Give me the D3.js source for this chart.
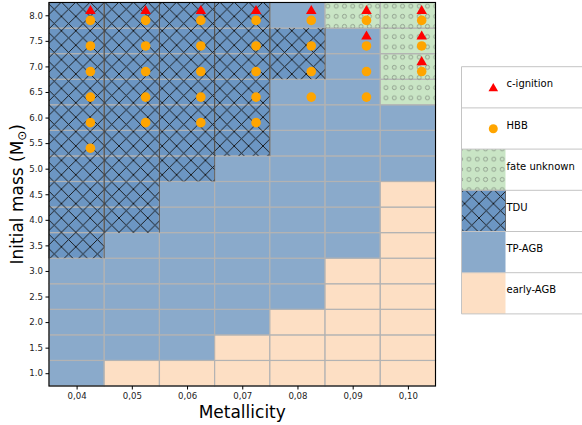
<!DOCTYPE html>
<html>
<head>
<meta charset="utf-8">
<style type="text/css">
body { margin: 0; background: #fff; }
svg { font-family: "DejaVu Sans", sans-serif; }
.cell { stroke: #b3b3b3; stroke-width: 1.2; }
.tick text { font-size: 8.6px; fill: #222; }
.legline { stroke: #c4c4c4; stroke-width: 1; }
</style>
<script src="https://d3js.org/d3.v7.min.js"></script>
</head>
<body>
<div class="chart"></div>
<script type="text/javascript">
// metallicity columns and initial mass rows
var metallicity = [0.04, 0.05, 0.06, 0.07, 0.08, 0.09, 0.10];
var masses = [1.0, 1.5, 2.0, 2.5, 3.0, 3.5, 4.0, 4.5, 5.0, 5.5, 6.0, 6.5, 7.0, 7.5, 8.0];

// fate per column, bottom (1.0) to top (8.0)
// E = early-AGB, T = TP-AGB, D = TDU, U = fate unknown
var fates = [
	"TTTTTDDDDDDDDDD",
	"ETTTTTDDDDDDDDD",
	"ETTTTTTTDDDDDDD",
	"EETTTTTTTDDDDDD",
	"EEETTTTTTTTTDDT",
	"EEEEETTTTTTTTTU",
	"EEEEEEEETTTUUUU"
];

// c-ignition models [Z, M]
var cIgnition = [
	[0.04, 8.0], [0.05, 8.0], [0.06, 8.0], [0.07, 8.0], [0.08, 8.0],
	[0.09, 8.0], [0.09, 7.5], [0.10, 8.0], [0.10, 7.5], [0.10, 7.0]
];
// HBB models [Z, M]
var hbb = [
	[0.04, 8.0], [0.04, 7.5], [0.04, 7.0], [0.04, 6.5], [0.04, 6.0], [0.04, 5.5],
	[0.05, 8.0], [0.05, 7.5], [0.05, 7.0], [0.05, 6.5], [0.05, 6.0],
	[0.06, 8.0], [0.06, 7.5], [0.06, 7.0], [0.06, 6.5], [0.06, 6.0],
	[0.07, 8.0], [0.07, 7.5], [0.07, 7.0], [0.07, 6.5], [0.07, 6.0],
	[0.08, 8.0], [0.08, 7.5], [0.08, 7.0], [0.08, 6.5],
	[0.09, 8.0], [0.09, 7.5], [0.09, 7.0], [0.09, 6.5],
	[0.10, 8.0], [0.10, 7.5], [0.10, 7.0]
];

var xTicks = [0.04, 0.05, 0.06, 0.07, 0.08, 0.09, 0.10];
var yTicks = [1.0, 1.5, 2.0, 2.5, 3.0, 3.5, 4.0, 4.5, 5.0, 5.5, 6.0, 6.5, 7.0, 7.5, 8.0];

var legendNames = ["c-ignition", "HBB", "fate unknown", "TDU", "TP-AGB", "early-AGB"];

var colors = { E: "#fddfc4", T: "#8aaacb", D: "#6c96c3", U: "#c9e5c5" };

var W = 582, H = 425;
var pL = 49, pR = 435.5, pT = 2.5, pB = 386;

var svg = d3.select(".chart").append("svg").attr("width", W).attr("height", H);
var defs = svg.append("defs");

var hx = defs.append("pattern").attr("id", "hatchX").attr("patternUnits", "userSpaceOnUse")
	.attr("width", 14.4).attr("height", 14.4).attr("x", 47).attr("y", 2);
hx.append("path").attr("d", "M0,0L14.4,14.4M14.4,0L0,14.4M-2,12.4L2,16.4M12.4,-2L16.4,2M-2,2L2,-2M12.4,16.4L16.4,12.4")
	.attr("stroke", "#111").attr("stroke-width", 0.9).attr("fill", "none");

var ho = defs.append("pattern").attr("id", "hatchO").attr("patternUnits", "userSpaceOnUse")
	.attr("width", 8.3).attr("height", 10.2).attr("x", 0).attr("y", 1);
ho.append("circle").attr("cx", 4.15).attr("cy", 5.1).attr("r", 2)
	.attr("stroke", "#8c9a8a").attr("stroke-width", 0.9).attr("fill", "none");

var x = d3.scaleLinear().domain([0.035, 0.105]).range([pL, pR]);
var y = d3.scaleLinear().domain([0.75, 8.25]).range([pB, pT]);

// cells
var cells = [];
fates.forEach(function(col, i) {
	masses.forEach(function(m, j) {
		cells.push({ z: metallicity[i], m: m, f: col[j] });
	});
});

function cellRect(sel) {
	sel.attr("x", function(d) { return x(d.z - 0.005); })
		.attr("y", function(d) { return y(d.m + 0.25); })
		.attr("width", function(d) { return x(d.z + 0.005) - x(d.z - 0.005); })
		.attr("height", function(d) { return y(d.m - 0.25) - y(d.m + 0.25); });
}

var g = svg.append("g");
g.selectAll("rect.cell").data(cells).enter().append("rect")
	.attr("class", "cell").call(cellRect)
	.attr("fill", function(d) { return colors[d.f]; });

g.selectAll("rect.hx").data(cells.filter(function(d) { return d.f == "D"; })).enter().append("rect")
	.call(cellRect).attr("fill", "url(#hatchX)");

g.selectAll("rect.ho").data(cells.filter(function(d) { return d.f == "U"; })).enter().append("rect")
	.call(cellRect).attr("fill", "url(#hatchO)");

// dark vertical edges of TDU blocks
g.selectAll("path.dv").data(cells.filter(function(d) { return d.f == "D"; })).enter().append("path")
	.attr("d", function(d) {
		var x0 = x(d.z - 0.005), x1 = x(d.z + 0.005), y0 = y(d.m + 0.25), y1 = y(d.m - 0.25);
		return "M" + x0 + "," + y0 + "V" + y1 + "M" + x1 + "," + y0 + "V" + y1;
	})
	.attr("stroke", "#4a4a4a").attr("stroke-width", 0.8).attr("fill", "none");

// markers
var tri = d3.symbol().type(d3.symbolTriangle).size(48);
g.selectAll("path.ci").data(cIgnition).enter().append("path")
	.attr("d", tri)
	.attr("transform", function(d) { return "translate(" + x(d[0] + 0.0025) + "," + (y(d[1] + 0.1) + 0.8) + ")"; })
	.attr("fill", "#ff0000");

g.selectAll("circle.hbb").data(hbb).enter().append("circle")
	.attr("cx", function(d) { return x(d[0] + 0.0025); })
	.attr("cy", function(d) { return y(d[1] - 0.1); })
	.attr("r", 4.8)
	.attr("fill", "#ffa500");

// axes
var fmtX = d3.format(".2f");
var xAxis = d3.axisBottom(x).tickValues(xTicks).tickSize(3.5).tickPadding(3)
	.tickFormat(function(d) { return fmtX(d).replace(".", ","); });
var yAxis = d3.axisLeft(y).tickValues(yTicks).tickSize(3.5).tickPadding(2.5)
	.tickFormat(d3.format(".1f"));

svg.append("g").attr("transform", "translate(0," + pB + ")").call(xAxis)
	.call(function(s) { s.select(".domain").remove(); });
svg.append("g").attr("transform", "translate(" + pL + ",0)").call(yAxis)
	.call(function(s) { s.select(".domain").remove(); });
svg.selectAll(".tick text").attr("font-family", "DejaVu Sans");

svg.append("rect").attr("x", pL).attr("y", pT).attr("width", pR - pL).attr("height", pB - pT)
	.attr("fill", "none").attr("stroke", "#000").attr("stroke-width", 1.1);

svg.append("text").attr("x", (pL + pR) / 2).attr("y", 418).attr("text-anchor", "middle")
	.attr("font-size", 17).text("Metallicity");
var yl = svg.append("text").attr("transform", "translate(23," + ((pT + pB) / 2) + ") rotate(-90)")
	.attr("text-anchor", "middle").attr("font-size", 17);
yl.append("tspan").text("Initial mass (M");
yl.append("tspan").attr("font-size", 12).attr("dy", 2.5).text("\u2299");
yl.append("tspan").attr("dy", -2.5).text(")");

// legend table
var lx = 461.5, ly = 66.7, rh = 41.2, sw = 44;
var leg = svg.append("g");
var legFill = [null, null, "U", "D", "T", "E"];
legendNames.forEach(function(name, i) {
	var yy = ly + i * rh;
	var f = legFill[i];
	if (f) {
		leg.append("rect").attr("x", lx).attr("y", yy).attr("width", sw).attr("height", rh).attr("fill", colors[f]);
		if (f == "D") {
			leg.append("rect").attr("x", lx).attr("y", yy).attr("width", sw).attr("height", rh)
				.attr("fill", "url(#hatchX)").attr("stroke", "#555").attr("stroke-width", 0.8);
		}
		if (f == "U") {
			leg.append("rect").attr("x", lx).attr("y", yy).attr("width", sw).attr("height", rh).attr("fill", "url(#hatchO)");
		}
	} else if (i == 0) {
		leg.append("path").attr("d", d3.symbol().type(d3.symbolTriangle).size(40))
			.attr("transform", "translate(" + (lx + 31.8) + "," + (yy + 21.8) + ")").attr("fill", "#ff0000");
	} else {
		leg.append("circle").attr("cx", lx + 31.8).attr("cy", yy + 20.8).attr("r", 4.5).attr("fill", "#ffa500");
	}
	leg.append("text").attr("x", lx + sw + 1).attr("y", yy + rh / 2 - 3.5).attr("dominant-baseline", "central")
		.attr("font-size", 10).attr("fill", "#000").text(name);
});
for (var k = 0; k <= legendNames.length; k++) {
	leg.append("line").attr("class", "legline")
		.attr("x1", lx).attr("x2", W).attr("y1", ly + k * rh).attr("y2", ly + k * rh);
}
leg.append("line").attr("class", "legline").attr("x1", lx).attr("x2", lx).attr("y1", ly).attr("y2", ly + 6 * rh);
</script>
</body>
</html>
